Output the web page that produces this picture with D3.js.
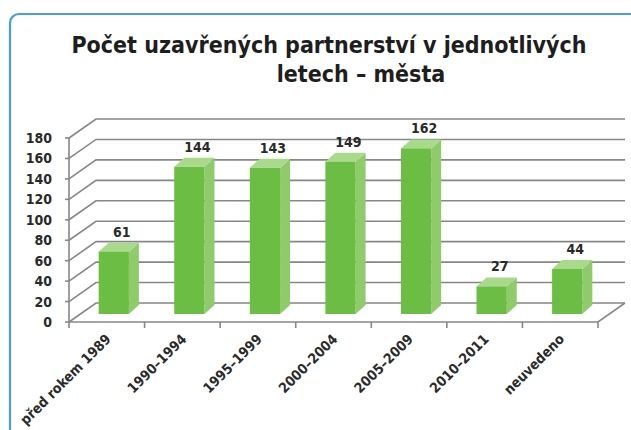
<!DOCTYPE html>
<html>
<head>
<meta charset="utf-8">
<style>
  body { margin: 0; background: #fff; }
  svg { display: block; }
</style>
<script src="https://cdn.jsdelivr.net/npm/d3@7"></script>
</head>
<body>
<script>
  /* globals d3 */
  const categories = ['před rokem 1989', '1990–1994', '1995–1999', '2000–2004', '2005–2009', '2010–2011', 'neuvedeno']
  const values = [61, 144, 143, 149, 162, 27, 44]
  const yTicks = [0, 20, 40, 60, 80, 100, 120, 140, 160, 180]
  const titleLines = ['Počet uzavřených partnerství v jednotlivých', 'letech – města']

  const width = 631, height = 430
  const floorY = 322
  // full depth of the 3D box and where the bars sit in it
  const depth = [27, -19]
  const barShift = [7, -8]
  const barDepth = [10, -9]
  const font = '"DejaVu Sans Condensed", "Liberation Sans", sans-serif'
  const gridColor = '#878787'

  const x = d3.scaleBand().domain(categories).range([69, 598])
  const y = d3.scaleLinear().domain([0, 180]).range([0, 184])

  const svg = d3.select('body').append('svg')
    .attr('width', width)
    .attr('height', height)
    .attr('viewBox', [0, 0, width, height])

  // blue frame, runs off the right and bottom edges
  svg.append('rect')
    .attr('x', 10).attr('y', 14)
    .attr('width', 640).attr('height', 440)
    .attr('rx', 9)
    .attr('fill', '#fff')
    .attr('stroke', '#4a9de0')
    .attr('stroke-width', 2.2)

  // second title line sits right of centre, as in the original
  svg.append('g')
    .selectAll('text')
    .data(titleLines)
    .join('text')
    .attr('x', (d, i) => i ? 361 : 329)
    .attr('y', (d, i) => 53 + i * 29)
    .attr('text-anchor', 'middle')
    .attr('font-family', font)
    .attr('font-weight', 'bold')
    .attr('font-size', 23)
    .attr('fill', '#1e1e1e')
    .text(d => d)

  const x0 = x.range()[0], x1 = x.range()[1]

  // grid: left wall diagonals + back wall lines
  const grid = svg.append('g')
    .attr('fill', 'none')
    .attr('stroke', gridColor)
    .attr('stroke-width', 1.6)
  grid.selectAll('path')
    .data(yTicks)
    .join('path')
    .attr('d', d => {
      const yy = floorY - y(d)
      return `M${x0},${yy}L${x0 + depth[0]},${yy + depth[1]}L${x1 + depth[0]},${yy + depth[1]}`
    })
  // floor and axes
  grid.append('path')
    .attr('d', `M${x0},${floorY - y(180)}V${floorY}H${x1}l${depth[0]},${depth[1]}`)
  grid.append('g')
    .selectAll('line')
    .data(yTicks)
    .join('line')
    .attr('x1', x0 - 4).attr('x2', x0)
    .attr('y1', d => floorY - y(d)).attr('y2', d => floorY - y(d))
  grid.append('g')
    .selectAll('line')
    .data(categories.map(c => x(c)).concat([x1]))
    .join('line')
    .attr('x1', d => d).attr('x2', d => d)
    .attr('y1', floorY).attr('y2', floorY + 6)

  svg.append('g')
    .selectAll('text')
    .data(yTicks)
    .join('text')
    .attr('x', 52)
    .attr('y', d => floorY - y(d))
    .attr('dy', '0.36em')
    .attr('text-anchor', 'end')
    .attr('font-family', font)
    .attr('font-weight', 'bold')
    .attr('font-size', 14)
    .attr('fill', '#2a2a2a')
    .text(d => d)

  // bars
  const bw = x.bandwidth() * 0.4
  const bars = svg.append('g')
    .selectAll('g')
    .data(values.map((v, i) => ({ cat: categories[i], v })))
    .join('g')
  const bx = d => x(d.cat) + x.bandwidth() / 2 - bw / 2 + barShift[0]
  const by = d => floorY + barShift[1] - y(d.v)
  bars.append('path')
    .attr('fill', '#8fcb6b')
    .attr('d', d => `M${bx(d) + bw},${by(d)}l${barDepth[0]},${barDepth[1]}V${floorY + barShift[1] + barDepth[1]}l${-barDepth[0]},${-barDepth[1]}Z`)
  bars.append('path')
    .attr('fill', '#a9da8c')
    .attr('d', d => `M${bx(d)},${by(d)}l${barDepth[0]},${barDepth[1]}h${bw}l${-barDepth[0]},${-barDepth[1]}Z`)
  bars.append('rect')
    .attr('fill', '#6bbd44')
    .attr('x', bx)
    .attr('y', by)
    .attr('width', bw)
    .attr('height', d => y(d.v))

  bars.append('text')
    .attr('x', d => bx(d) + bw / 2 + 8)
    .attr('y', d => by(d) + barDepth[1] - 6)
    .attr('text-anchor', 'middle')
    .attr('font-family', font)
    .attr('font-weight', 'bold')
    .attr('font-size', 14)
    .attr('fill', '#2a2a2a')
    .text(d => d.v)

  // rotated category labels
  svg.append('g')
    .selectAll('text')
    .data(categories)
    .join('text')
    .attr('transform', d => `translate(${x(d) + x.bandwidth() / 2 + 5},${floorY + 18}) rotate(-45)`)
    .attr('text-anchor', 'end')
    .attr('font-family', font)
    .attr('font-weight', 'bold')
    .attr('font-size', 14)
    .attr('fill', '#2a2a2a')
    .text(d => d)
</script>
</body>
</html>
